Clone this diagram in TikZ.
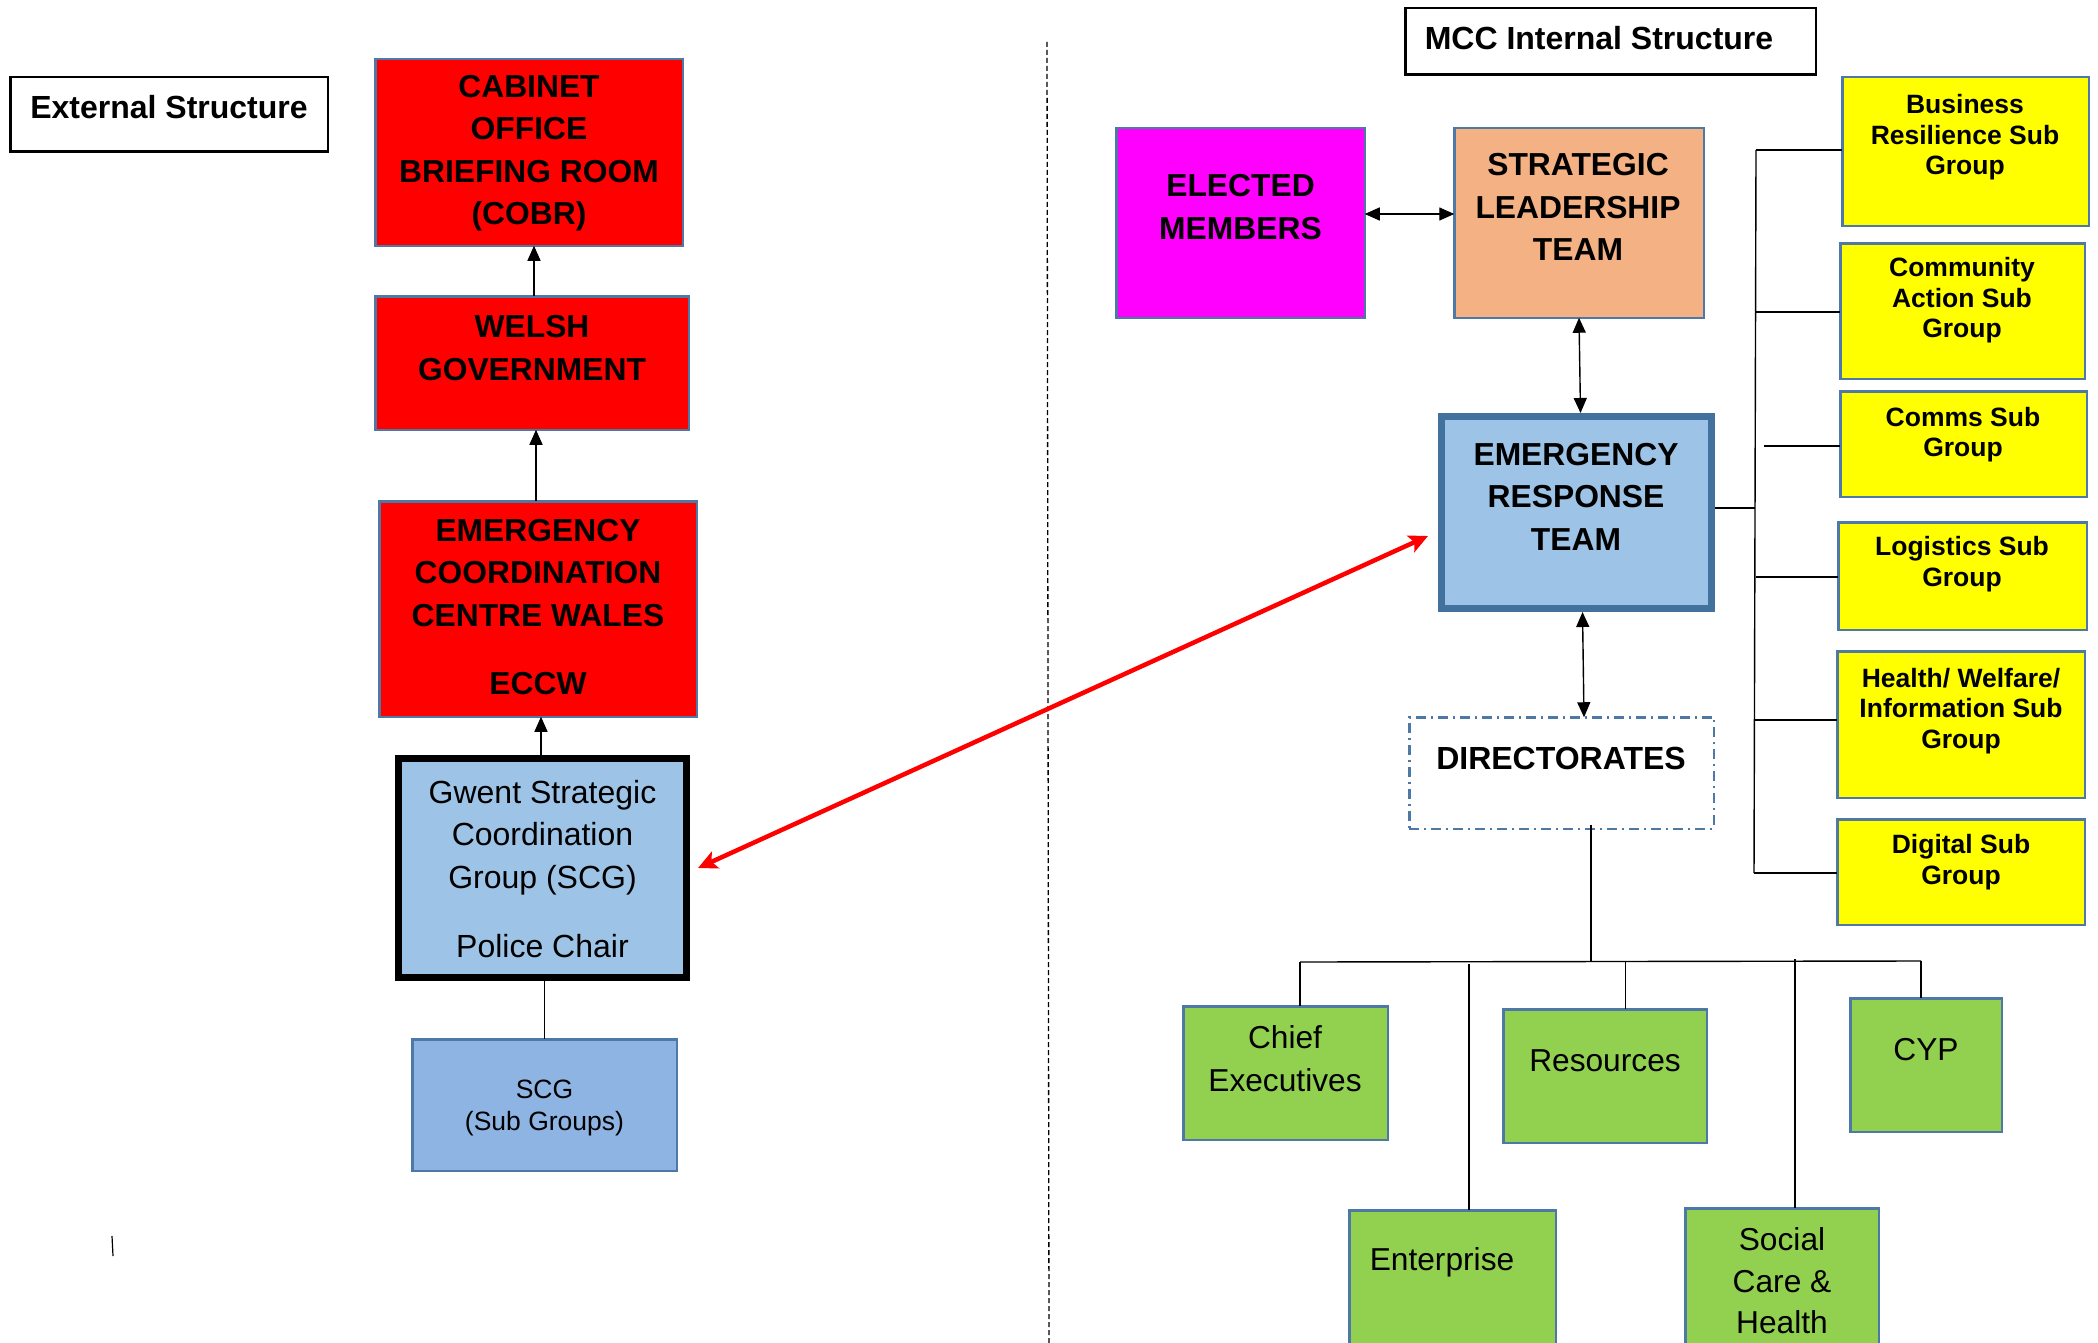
\documentclass[tikz,border=0pt]{standalone}
\usepackage{fontspec}
\setmainfont{Liberation Sans}
\usetikzlibrary{arrows.meta,calc}
\definecolor{bordc}{HTML}{4E79A7}
\definecolor{ertc}{HTML}{41719C}
\definecolor{redc}{HTML}{FF0000}
\definecolor{magc}{HTML}{FF00FF}
\definecolor{peachc}{HTML}{F4B183}
\definecolor{lbluec}{HTML}{9DC3E6}
\definecolor{subbluec}{HTML}{8EB4E3}
\definecolor{yelc}{HTML}{FFFF00}
\definecolor{grnc}{HTML}{92D050}
\tikzset{
  bx/.style={draw=bordc, line width=2.5pt, inner sep=0pt, outer sep=0pt},
  tb/.style={align=center, font={\bfseries\fontsize{31.8}{42.5}\selectfont}, inner sep=0pt},
  tr/.style={align=center, font={\fontsize{32}{42.5}\selectfont}, inner sep=0pt},
  ty/.style={align=center, font={\bfseries\fontsize{26.5}{30.5}\selectfont}, inner sep=0pt},
  arr/.style={line width=1.4pt, -{Triangle[length=15pt,width=13pt]}},
  darr/.style={line width=1.4pt, {Triangle[length=15pt,width=13pt]}-{Triangle[length=15pt,width=13pt]}},
  ln/.style={line width=1.4pt},
  redarr/.style={draw=redc, line width=4.5pt, {Stealth[length=19pt,width=18pt,inset=4pt]}-{Stealth[length=19pt,width=18pt,inset=4pt]}},
}
\begin{document}
\begin{tikzpicture}[x=1pt,y=-1pt]
\useasboundingbox (0,0) rectangle (2098,1343);
\fill[white] (0,0) rectangle (2098,1343);

% divider
\coordinate (dvT) at (1047,42);
\coordinate (dvB) at (1049,1343);
\draw[line width=1.3pt, dash pattern=on 5pt off 3pt] (dvT) -- (dvB);

% ---------- External structure ----------
\node[bx, draw=black, minimum width=317.5, minimum height=74.5] (ext) at (169,114.5) {};
\node[tb, font={\bfseries\fontsize{32}{38}\selectfont}] (extT) at (169,107) {External Structure};

\node[bx, fill=redc, minimum width=307.5, minimum height=186.5] (cobr) at (529,152.5) {};
\node[tb] (cobrT) at (529,153) {CABINET\\OFFICE\\BRIEFING ROOM\\(COBR)};

\node[bx, fill=redc, minimum width=313.5, minimum height=133.5] (welsh) at (532,363) {};
\node[tb] (welshT) at (532,348) {WELSH\\GOVERNMENT};

\node[bx, fill=redc, minimum width=317.5, minimum height=215.5] (eccw) at (538,609) {};
\node[tb] (eccwT) at (538,607) {EMERGENCY\\COORDINATION\\CENTRE WALES\\[26pt]ECCW};

\node[bx, draw=black, line width=7pt, fill=lbluec, minimum width=288, minimum height=219] (scg) at (542.5,868) {};
\node[tr] (scgT) at (542.5,869) {Gwent Strategic\\Coordination\\Group (SCG)\\[27pt]Police Chair};

\node[bx, fill=subbluec, minimum width=264.5, minimum height=131.5] (scgsub) at (544.5,1105) {};
\node[tr, font={\fontsize{26.5}{32}\selectfont}] (scgsubT) at (544.5,1108) {SCG\\(Sub Groups)};

\draw[arr] ([xshift=2]welsh.north) -- ([xshift=2]welsh.north |- cobr.south);
\draw[arr] ([xshift=-2]eccw.north) -- ([xshift=-2]eccw.north |- welsh.south);
\draw[arr] ([xshift=-1.5,yshift=3.5]scg.north) -- ([xshift=-1.5]scg.north |- eccw.south);
\draw[ln] ([yshift=-3.5]scgsub.north |- scg.south) -- (scgsub.north);

\coordinate (tickA) at (112,1236);
\coordinate (tickB) at (113,1256);
\draw[line width=1.2pt] (tickA) -- (tickB);

% ---------- MCC internal structure ----------
\node[bx, draw=black, minimum width=410.5, minimum height=66.5] (mcc) at (1610.5,41.5) {};
\node[tb, font={\bfseries\fontsize{32}{38}\selectfont}] (mccT) at (1599,38) {MCC Internal Structure};

\node[bx, fill=magc, minimum width=248.5, minimum height=189.5] (elected) at (1240.5,223) {};
\node[tb] (electedT) at (1240.5,207) {ELECTED\\MEMBERS};

\node[bx, fill=peachc, minimum width=249.5, minimum height=189.5] (slt) at (1579,223) {};
\node[tb] (sltT) at (1578,207) {STRATEGIC\\LEADERSHIP\\TEAM};

\node[bx, draw=ertc, line width=7pt, fill=lbluec, minimum width=270, minimum height=192] (ert) at (1576.5,512.5) {};
\node[tb] (ertT) at (1576,496.5) {EMERGENCY\\RESPONSE\\TEAM};

\node[bx, fill=white, dash pattern=on 10pt off 5pt on 2pt off 5pt, minimum width=304.5, minimum height=111.5] (dir) at (1561.5,773) {};
\node[tb, font={\bfseries\fontsize{32}{40}\selectfont}] (dirT) at (1561,758) {DIRECTORATES};

\draw[darr] ([yshift=9]elected.east) -- ([yshift=9]slt.west);
\draw[darr] (slt.south) -- ([xshift=1.5,yshift=3.5]slt.south |- ert.north);
\draw[darr] ([xshift=6,yshift=-3.5]ert.south) -- ([xshift=7.5]ert.south |- dir.north);

% sub groups
\node[bx, fill=yelc, minimum width=246.5, minimum height=148.5] (br) at (1965.5,151.5) {};
\node[ty] (brT) at (1965,137.5) {Business\\Resilience Sub\\Group};
\node[bx, fill=yelc, minimum width=244.5, minimum height=135.5] (ca) at (1962.5,311) {};
\node[ty] (caT) at (1962,300.5) {Community\\Action Sub\\Group};
\node[bx, fill=yelc, minimum width=246.5, minimum height=105.5] (comms) at (1963.5,444) {};
\node[ty] (commsT) at (1963,434.5) {Comms Sub\\Group};
\node[bx, fill=yelc, minimum width=248.5, minimum height=107.5] (logi) at (1962.5,576) {};
\node[ty] (logiT) at (1962,564) {Logistics Sub\\Group};
\node[bx, fill=yelc, minimum width=247.5, minimum height=146.5] (health) at (1961,724.5) {};
\node[ty] (healthT) at (1961,711) {Health/ Welfare/\\Information Sub\\Group};
\node[bx, fill=yelc, minimum width=247.5, minimum height=105.5] (dig) at (1961,872) {};
\node[ty] (digT) at (1961,862) {Digital Sub\\Group};

\coordinate (barT) at (1756,150);
\coordinate (barB) at (1754,873);
\coordinate (j2) at (1756,312);
\coordinate (j3) at (1764,446);
\coordinate (j4) at (1756,577);
\coordinate (j5) at (1755,720);
\coordinate (jE) at (1755,508);
\draw[ln] (barT) -- (barB);
\draw[ln] (barT) -- (barT -| br.west);
\draw[ln] (j2) -- (j2 -| ca.west);
\draw[ln] (j3) -- (j3 -| comms.west);
\draw[ln] (j4) -- (j4 -| logi.west);
\draw[ln] (j5) -- (j5 -| health.west);
\draw[ln] (barB) -- (barB -| dig.west);
\draw[ln] ([xshift=3.5]jE -| ert.east) -- (jE);

% directorates
\node[bx, fill=grnc, minimum width=204.5, minimum height=133.5] (chief) at (1285.5,1073) {};
\node[tr, font={\fontsize{31.7}{43}\selectfont}] (chiefT) at (1285,1059) {Chief\\Executives};
\node[bx, fill=grnc, minimum width=203.5, minimum height=133.5] (res) at (1605,1076) {};
\node[tr, font={\fontsize{31.7}{43}\selectfont}] (resT) at (1605,1061) {Resources};
\node[bx, fill=grnc, minimum width=151.5, minimum height=133.5] (cyp) at (1926,1065) {};
\node[tr, font={\fontsize{31.7}{43}\selectfont}] (cypT) at (1926,1050) {CYP};
\node[bx, fill=grnc, minimum width=206.5, minimum height=208.5] (ent) at (1452.5,1314.5) {};
\node[tr, font={\fontsize{31.7}{43}\selectfont}] (entT) at (1442,1262) {Enterprise};
\node[bx, fill=grnc, minimum width=193.5, minimum height=210.5] (soc) at (1782,1313.5) {};
\node[tr, font={\fontsize{31.7}{41.5}\selectfont}] (socT) at (1782,1281) {Social\\Care \&\\Health};

\coordinate (busC) at (1591,961);
\coordinate (busL) at (1300,962);
\coordinate (busR) at (1921,961);
\coordinate (dE) at (1469,964);
\coordinate (dR) at (1625.5,962);
\coordinate (dS) at (1795,959);
\draw[ln] ([yshift=4]busC |- dir.south) -- (busC);
\draw[ln] (busL) -- (busR);
\draw[ln] (busL) -- (busL |- chief.north);
\draw[ln] (dE) -- (dE |- ent.north);
\draw[ln] (dR) -- (dR |- res.north);
\draw[ln] (dS) -- (dS |- soc.north);
\draw[ln] (busR) -- (busR |- cyp.north);

% red link
\draw[redarr] ([xshift=11.5]scg.east) -- ([shift={(-13.5,23.5)}]ert.west);
\end{tikzpicture}
\end{document}
